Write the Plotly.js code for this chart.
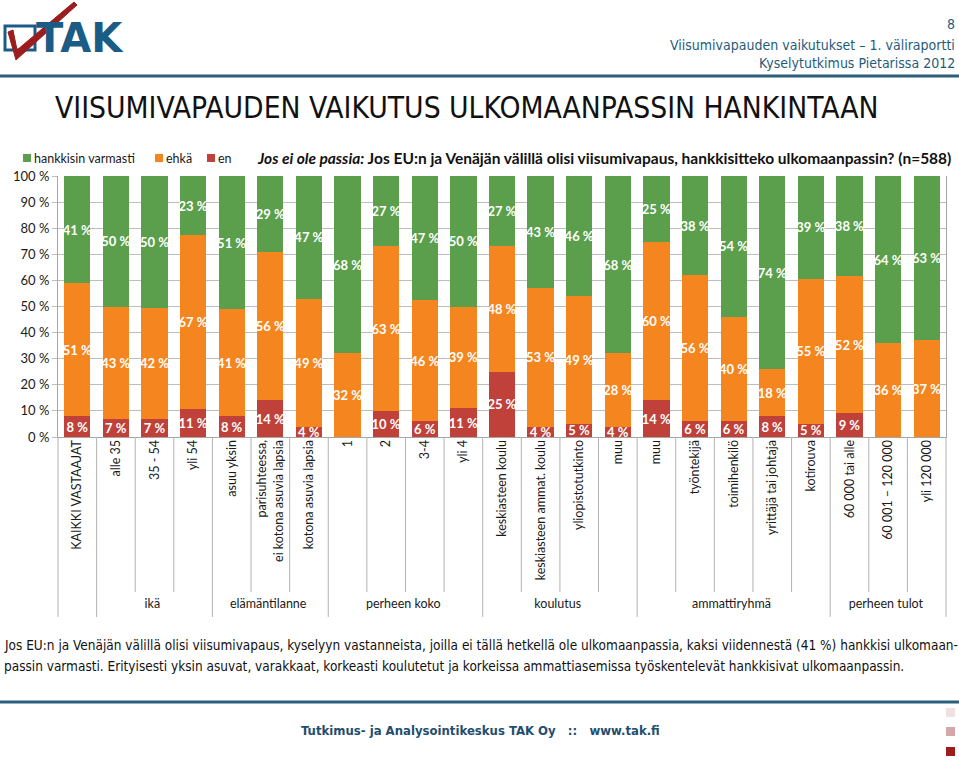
<!DOCTYPE html>
<html><head><meta charset="utf-8">
<script src="https://cdn.plot.ly/plotly-3.0.1.min.js"></script>
<style>body{margin:0;background:#fff}#chart{width:959px;height:760px}</style>
</head><body><div id="chart"></div>
<script>
// ---- data ----
const groups = [" ", "ikä", "ikä", "ikä", "elämäntilanne", "elämäntilanne", "elämäntilanne",
  "perheen koko", "perheen koko", "perheen koko", "perheen koko",
  "koulutus", "koulutus", "koulutus", "koulutus",
  "ammattiryhmä", "ammattiryhmä", "ammattiryhmä", "ammattiryhmä", "ammattiryhmä",
  "perheen tulot", "perheen tulot", "perheen tulot"];
const categories = ["KAIKKI VASTAAJAT", "alle 35", "35 - 54", "yli 54", "asuu yksin",
  "parisuhteessa,<br>ei kotona asuvia lapsia", "kotona asuvia lapsia", "1", "2", "3-4", "yli 4",
  "keskiasteen koulu", "keskiasteen ammat. koulu", "yliopistotutkinto", "muu",
  "työntekijä", "toimihenkilö", "yrittäjä tai johtaja", "kotirouva", "muu",
  "60 000 tai alle", "60 001 – 120 000", "yli 120 000"];
const hankkisin = [41, 50, 50, 23, 51, 29, 47, 68, 27, 47, 50, 27, 43, 46, 68, 38, 54, 74, 39, 25, 38, 64, 63];
const ehka      = [51, 43, 42, 67, 41, 56, 49, 32, 63, 46, 39, 48, 53, 49, 28, 56, 40, 18, 55, 60, 52, 36, 37];
const en        = [8, 7, 7, 11, 8, 14, 4, 0, 10, 6, 11, 25, 4, 5, 4, 6, 6, 8, 5, 14, 9, 0, 0];
const seriesNames = ["en", "ehkä", "hankkisin varmasti"];
const yTicks = [0, 10, 20, 30, 40, 50, 60, 70, 80, 90, 100];
const yTickText = ["0 %", "10 %", "20 %", "30 %", "40 %", "50 %", "60 %", "70 %", "80 %", "90 %", "100 %"];

// ---- geometry helpers (page pixels -> paper) ----
const W = 959, H = 760, ML = 58, MR = 13, MT = 176, MB = 323;
const PW = W - ML - MR, PH = H - MT - MB;
const px = v => (v - ML) / PW;
const py = v => (H - MB - v) / PH;

const GREEN = "#5b9f4c", ORANGE = "#f5861f", RED = "#c0413a";
const FONT = "Lato, 'Liberation Sans', sans-serif";
const NARROW = "'Liberation Sans Narrow', 'DejaVu Sans Condensed', sans-serif";
const lbl = a => a.map(v => v > 0 ? v + " %" : "");
const xdata = [groups, categories];

function trace(name, vals, color) {
  return {
    type: "bar", name: name, x: xdata, y: vals, marker: {color: color},
    text: lbl(vals), textposition: "inside", insidetextanchor: "middle",
    textangle: 0, constraintext: "none",
    textfont: {color: "#ffffff", size: 13, family: FONT, weight: "bold"},
    hoverinfo: "name+y", showlegend: false
  };
}
const data = [
  trace(seriesNames[0], en, RED),
  trace(seriesNames[1], ehka, ORANGE),
  trace(seriesNames[2], hankkisin, GREEN)
];

// ---- decorations ----
const shapes = [];
const n = categories.length;
for (let i = 0; i <= n; i++) {
  const isGroup = (i === 0 || i === n || groups[i] !== groups[i - 1]);
  shapes.push({type: "line", xref: "paper", yref: "paper", x0: i / n, x1: i / n,
    y0: 0, y1: py(isGroup ? 617 : 592), line: {color: "#b3b3b3", width: 1}});
}
// header & footer rules
shapes.push({type: "line", xref: "paper", yref: "paper", x0: px(0), x1: px(959), y0: py(76), y1: py(76), line: {color: "#2a5f7f", width: 3}});
shapes.push({type: "line", xref: "paper", yref: "paper", x0: px(0), x1: px(959), y0: py(702), y1: py(702), line: {color: "#2a5f7f", width: 3}});
// logo box
shapes.push({type: "rect", xref: "paper", yref: "paper", x0: px(5), x1: px(35), y0: py(26), y1: py(50), line: {color: "#1b5c86", width: 3}, fillcolor: "#ffffff"});
// check mark
const chk = [[8, 32], [13, 30], [17, 50], [74, 2], [77, 5], [16, 60]];
shapes.push({type: "path", xref: "paper", yref: "paper",
  path: "M" + chk.map(p => px(p[0]) + "," + py(p[1])).join("L") + "Z",
  fillcolor: "#9b1d20", line: {color: "#9b1d20", width: 1}});
// small squares bottom right
[["#efe1e2", 708], ["#d4a8ab", 727], ["#9e1c1c", 747]].forEach(s => {
  shapes.push({type: "rect", xref: "paper", yref: "paper", x0: px(946), x1: px(955), y0: py(s[1]), y1: py(s[1] + 9), line: {width: 0}, fillcolor: s[0]});
});
// legend swatches
const legendItems = [[seriesNames[2], GREEN, 23], [seriesNames[1], ORANGE, 155], [seriesNames[0], RED, 207]];
legendItems.forEach(it => {
  shapes.push({type: "rect", xref: "paper", yref: "paper", x0: px(it[2]), x1: px(it[2] + 8), y0: py(154), y1: py(162), line: {width: 0}, fillcolor: it[1]});
});

const ann = (text, x, y, opts) => Object.assign({text: text, xref: "paper", yref: "paper", x: px(x), y: py(y), showarrow: false, xanchor: "left", yanchor: "middle"}, opts);
const annotations = [
  ann("TAK", 34, 38, {font: {family: "'DejaVu Sans', sans-serif", size: 40, color: "#1b5c86", weight: "bold"}}),
  ann("8", 957, 24, {xanchor: "right", font: {family: NARROW, size: 14, color: "#1f5c7c"}}),
  ann("Viisumivapauden vaikutukset – 1. väliraportti", 957, 45, {xanchor: "right", font: {family: NARROW, size: 14, color: "#1f5c7c"}}),
  ann("Kyselytutkimus Pietarissa 2012", 957, 63, {xanchor: "right", font: {family: NARROW, size: 14, color: "#1f5c7c"}}),
  ann("<b><i>Jos ei ole passia:</i> Jos EU:n ja Venäjän välillä olisi viisumivapaus, hankkisitteko ulkomaanpassin? (n=588)</b>", 255, 158, {font: {family: FONT, size: 15.5, color: "#111"}}),
  ann("Jos EU:n ja Venäjän välillä olisi viisumivapaus, kyselyyn vastanneista, joilla ei tällä hetkellä ole ulkomaanpassia, kaksi viidennestä (41 %) hankkisi ulkomaan-", 2, 645, {font: {family: NARROW, size: 13.5, color: "#111"}}),
  ann("passin varmasti. Erityisesti yksin asuvat, varakkaat, korkeasti koulutetut ja korkeissa ammattiasemissa työskentelevät hankkisivat ulkomaanpassin.", 2, 666, {font: {family: NARROW, size: 13.5, color: "#111"}}),
  ann("<b>Tutkimus- ja Analysointikeskus TAK Oy   ::   www.tak.fi</b>", 480, 731, {xanchor: "center", font: {family: NARROW, size: 13, color: "#1f4e6e"}})
];
legendItems.forEach(it => {
  annotations.push(ann(it[0], it[2] + 9, 158, {font: {family: FONT, size: 12.5, color: "#1a1a1a"}}));
});

const layout = {
  width: W, height: H, autosize: false,
  margin: {l: ML, r: MR, t: MT, b: MB, pad: 0},
  paper_bgcolor: "#ffffff", plot_bgcolor: "#ffffff",
  font: {family: FONT, size: 13, color: "#1a1a1a"},
  title: {text: "VIISUMIVAPAUDEN VAIKUTUS ULKOMAANPASSIN HANKINTAAN", xref: "container", yref: "container",
    x: 55 / W, xanchor: "left", y: 1 - 108 / H, yanchor: "middle",
    font: {family: NARROW, size: 29.7, color: "#111"}},
  barmode: "stack", barnorm: "percent", bargap: 0.32,
  showlegend: false,
  xaxis: {type: "multicategory", tickangle: -90, showgrid: false, ticks: "", automargin: false,
    showdividers: false, ticklabelstandoff: -3, tickfont: {family: FONT, size: 12.5, color: "#1a1a1a"},
    showline: true, linecolor: "#a6a6a6"},
  yaxis: {range: [0, 100], tickmode: "array", tickvals: yTicks, ticktext: yTickText, showgrid: true, gridcolor: "#bdbdbd",
    ticks: "outside", ticklen: 5, tickcolor: "#bdbdbd", showline: true, linecolor: "#a6a6a6", mirror: true,
    tickfont: {family: FONT, size: 13, color: "#1a1a1a"}, automargin: false, zeroline: false},
  shapes: shapes, annotations: annotations
};
Plotly.newPlot("chart", data, layout, {displayModeBar: false, staticPlot: true});
</script></body></html>
